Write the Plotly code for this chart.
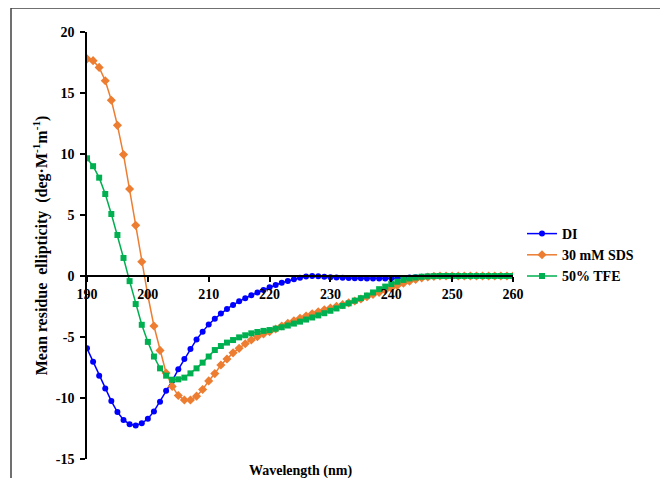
import plotly.graph_objects as go

wavelength = list(range(190, 261))

di = [-5.93, -7.02, -8.17, -9.22, -10.25, -11.15, -11.8, -12.15, -12.25, -12.07,
      -11.7, -11.1, -10.3, -9.4, -8.6, -7.65, -6.8, -5.98, -5.2, -4.56,
      -3.98, -3.5, -3.08, -2.7, -2.37, -2.07, -1.82, -1.58, -1.36, -1.14,
      -0.93, -0.74, -0.56, -0.4, -0.26, -0.14, -0.05, 0.0, -0.02, -0.06,
      -0.1, -0.13, -0.15, -0.17, -0.18, -0.19, -0.2, -0.2, -0.2, -0.2,
      -0.19, -0.18, -0.16, -0.13, -0.1, -0.07, -0.04, -0.02, -0.01, 0.0,
      0.0, 0.0, 0.0, 0.0, 0.0, 0.0, 0.0, 0.0, 0.0, 0.0, 0.0]

sds = [17.8, 17.65, 17.1, 16.0, 14.4, 12.35, 9.95, 7.13, 4.15, 1.17,
       -1.6, -4.1, -6.1, -7.95, -9.05, -9.8, -10.16, -10.16, -9.85, -9.3,
       -8.6, -8.0, -7.3, -6.8, -6.3, -5.93, -5.55, -5.25, -4.97, -4.75,
       -4.56, -4.35, -4.1, -3.88, -3.67, -3.47, -3.28, -3.1, -2.93, -2.77,
       -2.62, -2.48, -2.35, -2.2, -2.05, -1.88, -1.7, -1.52, -1.34, -1.16,
       -0.98, -0.78, -0.6, -0.43, -0.28, -0.16, -0.08, -0.03, 0.0, 0.0,
       0.0, 0.0, 0.0, 0.0, 0.0, 0.0, 0.0, 0.0, 0.0, 0.0, 0.0]

tfe = [9.65, 9.0, 8.06, 6.72, 5.08, 3.36, 1.48, -0.42, -2.3, -4.0,
       -5.4, -6.6, -7.57, -8.17, -8.5, -8.47, -8.33, -7.98, -7.57, -7.1,
       -6.6, -6.07, -5.74, -5.46, -5.25, -5.03, -4.86, -4.7, -4.59, -4.5,
       -4.43, -4.32, -4.2, -4.06, -3.9, -3.74, -3.57, -3.4, -3.23, -3.05,
       -2.85, -2.66, -2.45, -2.24, -2.02, -1.82, -1.6, -1.35, -1.08, -0.87,
       -0.66, -0.47, -0.32, -0.2, -0.12, -0.06, -0.03, -0.01, 0.0, 0.0,
       0.0, 0.0, 0.0, 0.0, 0.0, 0.0, 0.0, 0.0, 0.0, 0.0, 0.0]

series_names = ["DI", "30 mM SDS", "50% TFE"]
x_ticks = [190, 200, 210, 220, 230, 240, 250, 260]
y_ticks = [-15, -10, -5, 0, 5, 10, 15, 20]

FONT = "Liberation Serif"
# the page body has an 8 px default margin, so the figure is drawn 8 px in
OFF = 8
W, H = 668 - OFF, 478 - OFF
ML, MR, MT, MB = 87 - OFF, 155, 32 - OFF, 19
PW, PH = W - ML - MR, H - MT - MB

def px_x(p):  # reference-window pixel -> paper x
    return (p - OFF - ML) / PW

def px_y(p):  # reference-window pixel -> paper y
    return (H - MB - (p - OFF)) / PH

fig = go.Figure()
fig.add_trace(go.Scatter(x=wavelength, y=di, name=series_names[0], mode="lines+markers",
                         line=dict(color="#0000FF", width=1.5),
                         marker=dict(symbol="circle", size=6, color="#0000FF")))
fig.add_trace(go.Scatter(x=wavelength, y=sds, name=series_names[1], mode="lines+markers",
                         line=dict(color="#ED7D31", width=1.5),
                         marker=dict(symbol="diamond", size=7, color="#ED7D31")))
fig.add_trace(go.Scatter(x=wavelength, y=tfe, name=series_names[2], mode="lines+markers",
                         line=dict(color="#00B050", width=1.5),
                         marker=dict(symbol="square", size=6, color="#00B050")))

ymin, ymax = -15, 20
zero_pos = (0 - ymin) / (ymax - ymin)

fig.update_layout(
    width=W, height=H,
    margin=dict(l=ML, r=MR, t=MT, b=MB),
    paper_bgcolor="white", plot_bgcolor="white",
    font=dict(family=FONT, size=14, color="black"),
    showlegend=True,
    legend=dict(x=px_x(522), y=px_y(218), xanchor="left", yanchor="top",
                font=dict(family=FONT, size=14, color="black", weight="bold"),
                bgcolor="rgba(0,0,0,0)", borderwidth=0),
    xaxis=dict(range=[190, 260], domain=[0, 1], anchor="free", position=zero_pos,
               tickvals=x_ticks, ticktext=[str(v) for v in x_ticks],
               showline=True, linecolor="black", linewidth=1.5,
               ticks="outside", ticklen=5, tickwidth=1.5, tickcolor="black",
               showgrid=False, zeroline=False,
               tickfont=dict(family=FONT, size=14, color="black", weight="bold")),
    yaxis=dict(range=[ymin, ymax], domain=[0, 1], anchor="x",
               tickvals=y_ticks, ticktext=[str(v) for v in y_ticks],
               showline=True, linecolor="black", linewidth=1.5,
               ticks="outside", ticklen=5, tickwidth=1.5, tickcolor="black",
               ticklabelstandoff=3,
               showgrid=False, zeroline=False,
               tickfont=dict(family=FONT, size=14, color="black", weight="bold"),
               title=dict(text="Mean residue  ellipticity  (deg·M<sup>-1</sup>m<sup>-1</sup>)",
                          font=dict(family=FONT, size=16, color="black", weight="bold"),
                          standoff=4)),
    annotations=[dict(text="<b>Wavelength (nm)</b>", xref="paper", yref="paper",
                      x=0.5, y=0, xanchor="center", yanchor="top", yshift=-2,
                      showarrow=False, font=dict(family=FONT, size=14, color="black"))],
    shapes=[
        dict(type="line", xref="paper", yref="paper", x0=px_x(11), x1=px_x(700),
             y0=px_y(8), y1=px_y(8), line=dict(color="#404040", width=1.5)),
        dict(type="line", xref="paper", yref="paper", x0=px_x(11), x1=px_x(11),
             y0=px_y(8), y1=px_y(500), line=dict(color="#404040", width=1.5)),
    ],
)

fig.write_html("out.html")
